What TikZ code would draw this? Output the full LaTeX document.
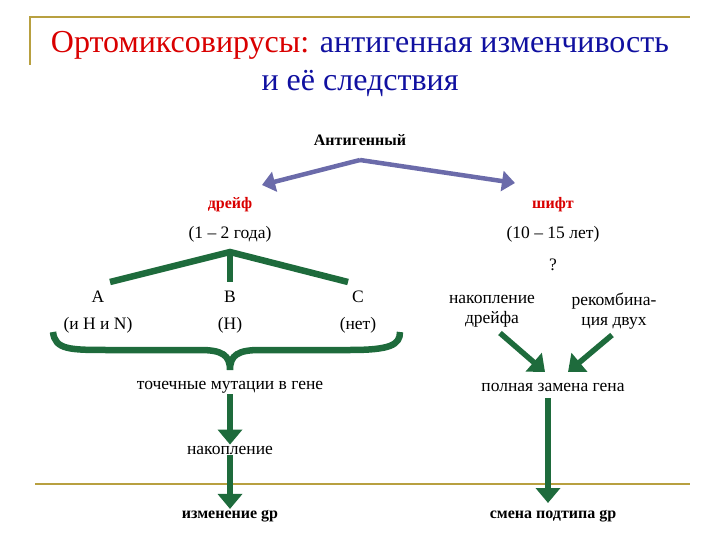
\documentclass[tikz,border=0pt]{standalone}
\usepackage{fontspec}
\setmainfont{Liberation Serif}
\usetikzlibrary{arrows.meta}
\definecolor{gold}{HTML}{B8A040}
\definecolor{grn}{HTML}{1E6B3C}
\definecolor{pur}{HTML}{6B6BAA}
\definecolor{ttl}{HTML}{1010A0}
\begin{document}
\begin{tikzpicture}[x=1pt,y=-1pt,
  txt/.style={font=\fontsize{17.5}{20}\selectfont,align=center,inner sep=1pt},
  btxt/.style={txt,font=\fontsize{16}{18}\selectfont\bfseries},
  garrow/.style={grn,line width=5.5pt,-{Triangle[length=15pt,width=24pt]}},
  parrow/.style={pur,line width=4.5pt,-{Triangle[length=13pt,width=20pt]}},
  gline/.style={grn,line width=6.5pt}]
\useasboundingbox (0,0) rectangle (720,540);
\draw[gold,line width=1.5pt] (30,65) -- (30,17) -- (690,17);
\draw[gold,line width=1.5pt] (35,484) -- (690,484);
\node[font=\fontsize{32}{36}\selectfont] (t1) at (360,45) {\textcolor{red!85!black}{Ортомиксовирусы:} \textcolor{ttl}{антигенная изменчивость}};
\node[font=\fontsize{32}{36}\selectfont,text=ttl] (t2) at (360,83) {и её следствия};
\node[btxt] (ag) at (360,140) {Антигенный};
\coordinate (agb) at (360,160);
\node[btxt,text=red!85!black] (dr) at (230,205) {дрейф};
\node[btxt,text=red!85!black] (sh) at (553,205) {шифт};
\draw[parrow] (agb) -- (262,185);
\draw[parrow] (agb) -- (515,183);
\node[txt] (dry) at (230,234) {(1 – 2 года)};
\node[txt] (shy) at (553,234) {(10 – 15 лет)};
\node[txt] (q) at (553,265) {?};
\coordinate (ap) at (230,252);
\draw[gline] (110,282) -- (ap) -- (348,282);
\draw[gline] (ap) -- (230,282);
\node[txt] (A) at (98,297) {A};
\node[txt] (A2) at (98,325) {(и H и N)};
\node[txt] (B) at (230,297) {B};
\node[txt] (B2) at (230,325) {(H)};
\node[txt] (C) at (358,297) {C};
\node[txt] (C2) at (358,325) {(нет)};
\draw[gline] (53,332) .. controls (55,350) and (70,350) .. (110,350) -- (200,350) .. controls (222,350) and (230,355) .. (230,370)
  .. controls (230,355) and (238,350) .. (260,350) -- (350,350) .. controls (390,350) and (400,345) .. (400,332);
\node[txt] (pm) at (230,387) {точечные мутации в гене};
\node[txt] (nak) at (230,450) {накопление};
\draw[garrow] (pm.south) -- (nak.north);
\node[btxt] (izm) at (230,516) {изменение gp};
\draw[garrow] (nak.south) -- (izm.north);
\node[txt] (nd) at (492,311) {накопление\\дрейфа};
\node[txt] (rk) at (614,311) {рекомбина-\\ция двух};
\node[txt] (pz) at (553,387) {полная замена гена};
\draw[garrow] (500,333) -- (545,372);
\draw[garrow] (612,335) -- (568,372);
\node[btxt] (sm) at (553,516) {смена подтипа gp};
\coordinate (pzb) at (548,398);
\coordinate (smt) at (548,503);
\draw[garrow] (pzb) -- (smt);
\end{tikzpicture}
\end{document}
